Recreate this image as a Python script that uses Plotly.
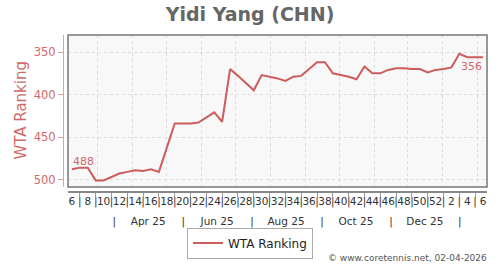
import plotly.graph_objects as go
from datetime import date, datetime, timedelta

# ---- data (ISO week of each weekly ranking) ----
iso_years = [2025] * 47 + [2026] * 6
iso_weeks = [6, 7, 8, 9, 10, 11, 12, 13, 14, 15, 16, 17, 18, 19, 20, 21, 22, 23, 24, 25,
             26, 27, 28, 29, 30, 31, 32, 33, 34, 35, 36, 37, 38, 39, 40, 41, 42, 43, 44, 45,
             46, 47, 48, 49, 50, 51, 52, 1, 2, 3, 4, 5, 6]
ranking = [488, 486, 486, 501, 501, 497, 493, 491, 489, 490, 488, 491, 463, 434, 434, 434,
           433, 427, 421, 432, 370, 378, 386, 395, 377, 379, 381, 384, 379, 378, 370, 362,
           362, 375, 377, 379, 382, 367, 375, 375, 371, 369, 369, 370, 370, 374, 371, 370,
           368, 352, 356, 356, 356]
month_labels = ["Apr 25", "Jun 25", "Aug 25", "Oct 25", "Dec 25"]
month_label_dates = ["2025-04-15", "2025-06-15", "2025-08-15", "2025-10-16", "2025-12-16"]
month_sep_dates = ["2025-03-16", "2025-05-16", "2025-07-16", "2025-09-16", "2025-11-16", "2026-01-16"]
y_ticks = [350, 400, 450, 500]
series_name = "WTA Ranking"
title_text = "Yidi Yang (CHN)"
credit = "© www.coretennis.net, 02-04-2026"


def week_mid(y, w):
    d = date.fromisocalendar(y, w, 1)
    return datetime(d.year, d.month, d.day) + timedelta(days=3, hours=12)


x = [week_mid(y, w) for y, w in zip(iso_years, iso_weeks)]
x_start = datetime(2025, 2, 3)
x_end = datetime(2026, 2, 9)
grid_months = [datetime(2025, m, 1) for m in range(3, 13)] + [datetime(2026, 1, 1), datetime(2026, 2, 1)]
week_text = [str(w) if w % 2 == 0 else "|" for w in iso_weeks]
odd_week_x = [xx for xx, w in zip(x, iso_weeks) if w % 2 == 1]

m_vals, m_text = [], []
for i, s in enumerate(month_sep_dates):
    m_vals.append(s)
    m_text.append("|")
    if i < len(month_labels):
        m_vals.append(month_label_dates[i])
        m_text.append(month_labels[i])

PINK = "#cd5c5c"
PINK_TXT = "#d06868"
PINK_LINE = "#e0a0a0"
FONT = "DejaVu Sans"

W, H = 500, 270
ML, MR, MT, MB = 63, 13, 35, 75
pw = W - ML - MR
ph = H - MT - MB
xd0 = 5 / pw
yd0 = 5 / ph
y_range = [508.9, 329.9]


def px_x(p):
    return (p - ML) / pw


def px_y(p):
    return (MT + ph - p) / ph


fig = go.Figure()
fig.add_trace(go.Scatter(x=x, y=ranking, mode="lines", name=series_name,
                         line=dict(color=PINK, width=2), xaxis="x", yaxis="y",
                         hoverinfo="x+y"))
# helper traces so the extra axes are drawn
fig.add_trace(go.Scatter(x=[x_start, x_end], y=[None, None], mode="none", showlegend=False,
                         xaxis="x2", yaxis="y", hoverinfo="skip"))
fig.add_trace(go.Scatter(x=[x_start, x_end], y=[None, None], mode="none", showlegend=False,
                         xaxis="x3", yaxis="y", hoverinfo="skip"))
fig.add_trace(go.Scatter(x=[x_start, x_end], y=[None, None], mode="none", showlegend=False,
                         xaxis="x", yaxis="y2", hoverinfo="skip"))

fig.update_layout(
    width=W, height=H,
    margin=dict(l=ML, r=MR, t=MT, b=MB, pad=0),
    paper_bgcolor="white", plot_bgcolor="#f8f8f8",
    font=dict(family=FONT, size=11, color="#444"),
    title=dict(text="<b>" + title_text + "</b>", x=0.5, xanchor="center",
               y=1 - 14 / H, yanchor="middle", font=dict(size=19, color="#666", family=FONT)),
    xaxis=dict(domain=[xd0, 1], type="date", range=[x_start, x_end], tickmode="array",
               tickvals=grid_months, showticklabels=False, ticks="", showgrid=True,
               gridcolor="#dcdcdc", griddash="3px,3px", gridwidth=1, showline=False, zeroline=False),
    yaxis=dict(domain=[yd0, 1], range=y_range, tickmode="array", tickvals=y_ticks,
               showticklabels=False, ticks="", showgrid=True, gridcolor="#dcdcdc",
               griddash="3px,3px", gridwidth=1, showline=False, zeroline=False),
    xaxis2=dict(overlaying="x", anchor="free", position=0, type="date", range=[x_start, x_end],
                tickmode="array", tickvals=x, ticktext=week_text, ticks="", showgrid=False,
                showline=True, linecolor="#888", linewidth=1.5, zeroline=False, tickangle=0,
                tickfont=dict(size=10.5, color="#333"),
                minor=dict(tickmode="array", tickvals=odd_week_x, ticks="outside", ticklen=4,
                           tickcolor="#999", tickwidth=1, showgrid=False)),
    xaxis3=dict(overlaying="x", anchor="free", position=0, type="date", range=[x_start, x_end],
                tickmode="array", tickvals=m_vals, ticktext=m_text, ticks="", showgrid=False,
                showline=False, zeroline=False, ticklabelstandoff=21, tickangle=0,
                tickfont=dict(size=10.5, color="#333")),
    yaxis2=dict(overlaying="y", anchor="free", position=0, side="left", range=y_range,
                tickmode="array", tickvals=y_ticks, ticks="outside", ticklen=5,
                tickcolor=PINK_LINE, showline=True, linecolor=PINK_LINE, linewidth=1,
                showgrid=False, zeroline=False, tickfont=dict(size=11.5, color=PINK_TXT)),
    legend=dict(orientation="h", x=px_x(250), xanchor="center", y=px_y(247),
                yanchor="middle", bordercolor="#aaa", borderwidth=1, bgcolor="white",
                font=dict(size=12, color="#222")),
    showlegend=True,
    shapes=[dict(type="rect", xref="paper", yref="paper", x0=xd0, x1=1, y0=yd0, y1=1,
                 line=dict(color="#777", width=1.5), layer="above")],
    annotations=[
        dict(x=px_x(21), y=px_y(112), xref="paper", yref="paper", text=series_name,
             textangle=-90, showarrow=False, xanchor="center", yanchor="middle",
             font=dict(size=15, color=PINK_TXT)),
        dict(x=x[0], y=ranking[0], xref="x", yref="y", text=str(ranking[0]), showarrow=False,
             xanchor="left", yanchor="middle", xshift=-1, yshift=8,
             font=dict(size=11, color=PINK_TXT)),
        dict(x=x[-1], y=ranking[-1], xref="x", yref="y", text=str(ranking[-1]), showarrow=False,
             xanchor="right", yanchor="middle", xshift=1, yshift=-9,
             font=dict(size=11, color=PINK_TXT)),
        dict(x=px_x(489), y=px_y(262), xref="paper", yref="paper", text=credit,
             showarrow=False, xanchor="right", yanchor="middle",
             font=dict(size=9, color="#555")),
    ],
)

fig.write_html("out.html")
